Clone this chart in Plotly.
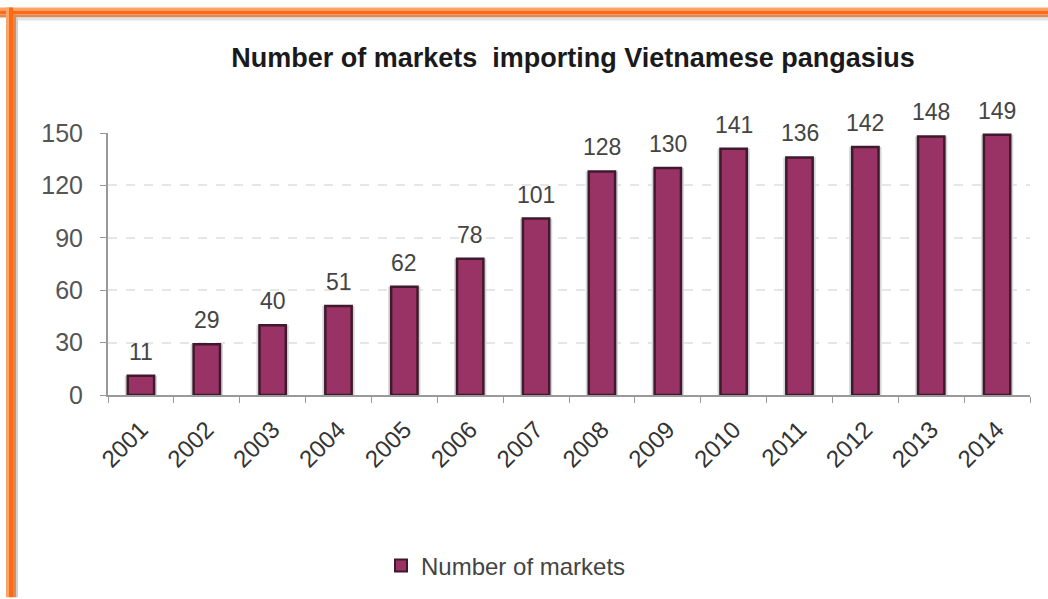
import plotly.graph_objects as go

years = ["2001", "2002", "2003", "2004", "2005", "2006", "2007",
         "2008", "2009", "2010", "2011", "2012", "2013", "2014"]
markets = [11, 29, 40, 51, 62, 78, 101, 128, 130, 141, 136, 142, 148, 149]
y_ticks = [0, 30, 60, 90, 120, 150]

W, H = 1048, 599
L, R, T, B = 108, 18, 133, 203
pw, ph = W - L - R, H - T - B


def px(x):
    return (x - L) / pw


def py(y):
    return (H - B - y) / ph


fig = go.Figure()
# soft grey shadow edge behind each column
fig.add_trace(go.Bar(
    x=years, y=markets, name="shadow", showlegend=False, hoverinfo="skip",
    marker=dict(color="#D2D6D6", line=dict(width=0)),
    width=0.49,
))
fig.add_trace(go.Bar(
    x=years, y=markets, name="Number of markets",
    marker=dict(color="#993366", line=dict(color="#40192C", width=2.5)),
    width=0.4,
))

# value labels sitting a little above each bar (x given as category index)
for i, v in enumerate(markets):
    fig.add_annotation(x=i, y=v, text=str(v), showarrow=False,
                       yanchor="bottom", yshift=9,
                       font=dict(size=23, color="#444444"))

# orange frame along the top and left edges
shapes = []
for (x0, x1, y0, y1, c) in [
    (0, W, 7, 10, "#F9A46A"), (0, W, 10, 14, "#FF6A10"), (0, W, 14, 17, "#DA8A5C"),
    (17, W, 17, 20, "#E2E2E2"),
    (6, 9, 7, H, "#F9A46A"), (9, 13, 7, H, "#FF6A10"), (13, 16, 14, H, "#DA8A5C"),
    (16, 18, 17, H, "#D0D0D0"),
]:
    shapes.append(dict(type="rect", xref="paper", yref="paper",
                       x0=px(x0), x1=px(x1), y0=py(y1), y1=py(y0),
                       fillcolor=c, line=dict(width=0), layer="above"))

fig.update_layout(
    width=W, height=H,
    margin=dict(l=L, r=R, t=T, b=B),
    paper_bgcolor="white", plot_bgcolor="white",
    font=dict(family="Liberation Sans, Arial, sans-serif", color="#333333"),
    title=dict(text="<b>Number of markets  importing Vietnamese pangasius</b>",
               x=573 / W, xanchor="center", y=1 - 58 / H, yanchor="middle",
               font=dict(size=27, color="#1a1a1a")),
    barmode="overlay",
    showlegend=True,
    legend=dict(orientation="h", x=px(381), xanchor="left",
                y=py(566), yanchor="middle",
                font=dict(size=24, color="#444444"),
                itemsizing="constant"),
    shapes=shapes,
    xaxis=dict(
        type="category", tickangle=-45, tickson="boundaries",
        ticks="outside", ticklen=6, tickcolor="#999999",
        showline=True, linecolor="#999999", linewidth=2,
        tickfont=dict(size=24, color="#333333"),
        ticklabelstandoff=9,
        showgrid=False,
    ),
    yaxis=dict(
        range=[0, 150], tickvals=y_ticks,
        ticks="outside", ticklen=6, tickcolor="#999999",
        showline=True, linecolor="#999999", linewidth=2,
        tickfont=dict(size=25, color="#555555"),
        ticklabelstandoff=12,
        showgrid=True, gridcolor="#E6E6E6", gridwidth=2, griddash="dash",
        zeroline=False,
    ),
)

fig.write_html("out.html")
